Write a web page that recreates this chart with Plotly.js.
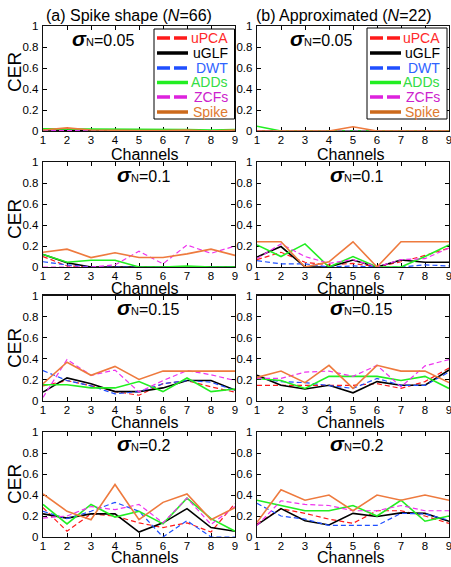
<!DOCTYPE html>
<html>
<head>
<meta charset="utf-8">
<script src="https://cdn.plot.ly/plotly-3.0.1.min.js"></script>
<style>html,body{margin:0;padding:0;background:#fff;}#chart{width:451px;height:567px;}</style>
</head>
<body>
<div id="chart"></div>
<script>
// ---------- DATA ----------
const channels = [1, 2, 3, 4, 5, 6, 7, 8, 9];
const methods = ['uPCA', 'uGLF', 'DWT', 'ADDs', 'ZCFs', 'Spike'];
const noiseLevels = ['0.05', '0.1', '0.15', '0.2'];
const panelTitles = ['(a) Spike shape (<i>N</i>=66)', '(b) Approximated (<i>N</i>=22)'];
const xTitle = 'Channels';
const yTitle = 'CER';
const yTickVals = [0, 0.2, 0.4, 0.6, 0.8, 1];
const yTickText = ['0', '0.2', '0.4', '0.6', '0.8', '1'];

// Each array: rows in order uPCA, uGLF, DWT, ADDs, ZCFs, Spike
// (a) Spike shape
const a005 = [
  [0.005, 0.01, 0, 0, 0, 0, 0, 0, 0],
  [0.01, 0.01, 0.005, 0, 0, 0, 0, 0, 0],
  [0, 0.005, 0, 0, 0, 0, 0, 0, 0],
  [0.02, 0.02, 0.015, 0.015, 0.015, 0.015, 0.015, 0.01, 0.015],
  [0, 0.005, 0, 0, 0, 0, 0, 0, 0.005],
  [0.01, 0.03, 0.01, 0.005, 0.005, 0.005, 0.01, 0, 0.01]
];
const a01 = [
  [0.1, 0.01, 0, 0, 0, 0, 0, 0, 0],
  [0.12, 0.04, 0, 0, 0, 0, 0, 0, 0],
  [0.05, 0.02, 0, 0, 0, 0, 0, 0, 0],
  [0.12, 0.045, 0.065, 0.065, 0, 0, 0.01, 0, 0],
  [0, 0, 0, 0.02, 0.15, 0.03, 0.21, 0.13, 0.2],
  [0.14, 0.17, 0.09, 0.135, 0.09, 0.09, 0.125, 0.17, 0.11]
];
const a015 = [
  [0.14, 0.19, 0.14, 0.085, 0.05, 0.16, 0.19, 0.13, 0.08],
  [0.08, 0.215, 0.16, 0.085, 0.085, 0.12, 0.19, 0.19, 0.1],
  [0.285, 0.19, 0.14, 0.063, 0.085, 0.16, 0.19, 0.175, 0.095],
  [0.15, 0.15, 0.12, 0.12, 0.18, 0.085, 0.215, 0.085, 0.11],
  [0.03, 0.39, 0.24, 0.29, 0.08, 0.19, 0.285, 0.245, 0.19],
  [0.16, 0.365, 0.24, 0.325, 0.2, 0.28, 0.28, 0.28, 0.28]
];
const a02 = [
  [0.28, 0.055, 0.22, 0.2, 0.135, 0.09, 0.135, 0.047, 0.32],
  [0.22, 0.18, 0.22, 0.22, 0.047, 0.135, 0.27, 0.09, 0.055],
  [0.245, 0.175, 0.245, 0.33, 0.245, 0, 0.155, 0, 0],
  [0.31, 0.125, 0.31, 0.19, 0.245, 0.125, 0.37, 0.175, 0.055],
  [0.18, 0.2, 0.29, 0.26, 0.31, 0.135, 0.37, 0.12, 0.29],
  [0.41, 0.245, 0.165, 0.5, 0.165, 0.33, 0.41, 0.165, 0.28]
];
// (b) Approximated
const b005 = [
  [0, 0, 0, 0, 0, 0, 0, 0, 0],
  [0, 0, 0, 0, 0, 0, 0, 0, 0],
  [0, 0, 0, 0, 0, 0, 0, 0, 0],
  [0.045, 0, 0, 0, 0, 0, 0, 0, 0],
  [0, 0, 0, 0, 0, 0, 0, 0, 0],
  [0, 0, 0, 0, 0.04, 0, 0, 0, 0]
];
const b01 = [
  [0.07, 0.14, 0.045, 0.02, 0.035, 0, 0.05, 0.11, 0.18],
  [0.095, 0.195, 0, 0, 0.067, 0, 0.067, 0.045, 0.045],
  [0.06, 0.03, 0.03, 0, 0.01, 0, 0, 0.02, 0.01],
  [0.21, 0.1, 0.22, 0, 0.1, 0, 0, 0.1, 0.21],
  [0.08, 0.22, 0.1, 0.035, 0.07, 0, 0.07, 0.08, 0.18],
  [0.24, 0.24, 0, 0.05, 0.24, 0, 0.24, 0.24, 0.24]
];
const b015 = [
  [0.145, 0.145, 0.15, 0.15, 0.145, 0.16, 0.115, 0.18, 0.31],
  [0.24, 0.145, 0.11, 0.145, 0.073, 0.18, 0.145, 0.145, 0.29],
  [0.215, 0.18, 0.17, 0.145, 0.115, 0.21, 0.145, 0.145, 0.27],
  [0.21, 0.19, 0.115, 0.23, 0.23, 0.23, 0.19, 0.23, 0.115],
  [0.21, 0.21, 0.27, 0.28, 0.23, 0.335, 0.13, 0.33, 0.39],
  [0.22, 0.28, 0.17, 0.335, 0.115, 0.335, 0.28, 0.28, 0.17]
];
const b02 = [
  [0.125, 0.27, 0.225, 0.17, 0.13, 0.25, 0.25, 0.2, 0.13],
  [0.115, 0.27, 0.155, 0.115, 0.225, 0.195, 0.23, 0.225, 0.15],
  [0.32, 0.2, 0.17, 0.11, 0.11, 0.11, 0.225, 0.22, 0.16],
  [0.35, 0.3, 0.25, 0.25, 0.3, 0.2, 0.35, 0.15, 0.2],
  [0.11, 0.345, 0.31, 0.3, 0.25, 0.25, 0.3, 0.25, 0.25],
  [0.14, 0.45, 0.35, 0.4, 0.25, 0.4, 0.35, 0.4, 0.35]
];

// ---------- STYLE ----------
const lineColors = ['#ff1a1a', '#000000', '#1f4fff', '#22ee22', '#ee33ee', '#ee7a3e'];
const legendLineColors = ['#ff1a1a', '#000000', '#1f4fff', '#22ee22', '#dd22dd', '#cc6a1c'];
const textColors = ['#ff2a2a', '#000000', '#2f63ff', '#33dd44', '#cc22cc', '#e07a30'];
const dashed = [true, false, true, false, true, false];
const FONT = 'Liberation Sans, Arial, Helvetica, sans-serif';
const TICK = 11.5;
const W = 451, H = 567;

const panels = [[a005, b005], [a01, b01], [a015, b015], [a02, b02]];
const colPx = [[43, 235], [257, 449]];
const rowTopPx = [26, 162, 295.5, 432];
const rowHPx = 105;
const xTitleY = [154, 288, 422.5, 557];
const xTitleX = [145, 351];
const yTitleY = [72, 219, 348, 484];
const px = v => v / W;
const py = v => 1 - v / H;

const traces = [];
const layout = {
  width: W, height: H,
  margin: {l: 0, r: 0, t: 0, b: 0},
  paper_bgcolor: '#fff', plot_bgcolor: '#fff',
  showlegend: false,
  font: {family: FONT, color: '#000', size: 12},
  annotations: [], shapes: []
};

for (let r = 0; r < 4; r++) {
  for (let c = 0; c < 2; c++) {
    const idx = r * 2 + c + 1;
    const xn = 'x' + (idx === 1 ? '' : idx);
    const yn = 'y' + (idx === 1 ? '' : idx);
    const data = panels[r][c];
    data.forEach((vals, m) => {
      traces.push({
        x: channels, y: vals, xaxis: xn, yaxis: yn,
        type: 'scatter', mode: 'lines', name: methods[m],
        line: {color: lineColors[m], width: dashed[m] ? 1.2 : 1.6, dash: dashed[m] ? '5px,3px' : 'solid'},
        cliponaxis: false, hoverinfo: 'skip'
      });
    });
    const xk = 'xaxis' + (idx === 1 ? '' : idx);
    const yk = 'yaxis' + (idx === 1 ? '' : idx);
    layout[xk] = {
      domain: [px(colPx[c][0]), px(colPx[c][1])], anchor: yn,
      range: [1, 9], tickvals: channels, ticktext: channels.map(String),
      ticks: 'inside', ticklen: 4, tickcolor: '#000', showline: true, mirror: 'ticks',
      linecolor: '#111', linewidth: 1.3, showgrid: false, zeroline: false,
      tickfont: {size: TICK, family: FONT}, layer: 'below traces',
      ticklabeloverflow: 'allow', ticklabelstandoff: -2,
      fixedrange: true
    };
    layout[yk] = {
      domain: [py(rowTopPx[r] + rowHPx), py(rowTopPx[r])], anchor: xn,
      range: [0, 1], tickvals: yTickVals, ticktext: yTickText,
      ticks: 'inside', ticklen: 4, tickcolor: '#000', showline: true, mirror: 'ticks',
      linecolor: '#111', linewidth: 1.3, showgrid: false, zeroline: false,
      tickfont: {size: TICK, family: FONT}, layer: 'below traces',
      ticklabelstandoff: 1, ticklabeloverflow: 'allow',
      fixedrange: true
    };
    // axis titles
    layout.annotations.push({
      xref: 'paper', yref: 'paper', x: px(xTitleX[c]), y: py(xTitleY[r]), xanchor: 'center', yanchor: 'middle',
      showarrow: false, text: xTitle, font: {size: 16, family: FONT, color: '#000'}, borderpad: 0
    });
    if (c === 0) {
      layout.annotations.push({
        xref: 'paper', yref: 'paper', x: px(14), y: py(yTitleY[r]), xanchor: 'center', yanchor: 'middle',
        showarrow: false, textangle: -90, text: yTitle, font: {size: 19, family: FONT, color: '#000'}
      });
    }
    // noise-level annotation
    const ax = r === 0 ? (c === 0 ? 70 : 288) : (c === 0 ? 115 : 328);
    const ay = [38, 174, 307, 443][r];
    layout.annotations.push({
      xref: 'paper', yref: 'paper', x: px(ax), y: py(ay), xanchor: 'left', yanchor: 'middle',
      showarrow: false,
      text: '<span style="font-size:21px"><b><i>σ</i></b></span><span style="font-size:11px">N</span>=' + noiseLevels[r],
      font: {size: 16, family: FONT, color: '#000'}
    });
  }
}

// column titles
layout.annotations.push({xref: 'paper', yref: 'paper', x: px(129), y: py(15), xanchor: 'center', yanchor: 'middle',
  showarrow: false, text: panelTitles[0], font: {size: 16, family: FONT, color: '#000'}});
layout.annotations.push({xref: 'paper', yref: 'paper', x: px(344), y: py(15), xanchor: 'center', yanchor: 'middle',
  showarrow: false, text: panelTitles[1], font: {size: 16, family: FONT, color: '#000'}});

// legend boxes (top row panels)
const legendBoxes = [[154, 29, 234.5, 119], [367, 28, 447, 119]];
const legendRowY = [38, 53, 68, 82.5, 97, 112];
legendBoxes.forEach(b => {
  layout.shapes.push({type: 'rect', xref: 'paper', yref: 'paper', x0: px(b[0]), x1: px(b[2]), y0: py(b[3]), y1: py(b[1]),
    line: {color: '#000', width: 1}, fillcolor: '#fff', layer: 'above'});
  methods.forEach((m, i) => {
    layout.shapes.push({type: 'line', xref: 'paper', yref: 'paper', x0: px(b[0] + 3), x1: px(b[0] + 34),
      y0: py(legendRowY[i]), y1: py(legendRowY[i]),
      line: {color: legendLineColors[i], width: 3.5, dash: dashed[i] ? '13px,4px' : 'solid'}, layer: 'above'});
    layout.annotations.push({xref: 'paper', yref: 'paper', x: px(b[2] - 5), y: py(legendRowY[i]), xanchor: 'right', yanchor: 'middle',
      showarrow: false, text: m, font: {size: 14, family: FONT, color: textColors[i]}});
  });
});

Plotly.newPlot('chart', traces, layout, {staticPlot: true, displayModeBar: false});
</script>
</body>
</html>
